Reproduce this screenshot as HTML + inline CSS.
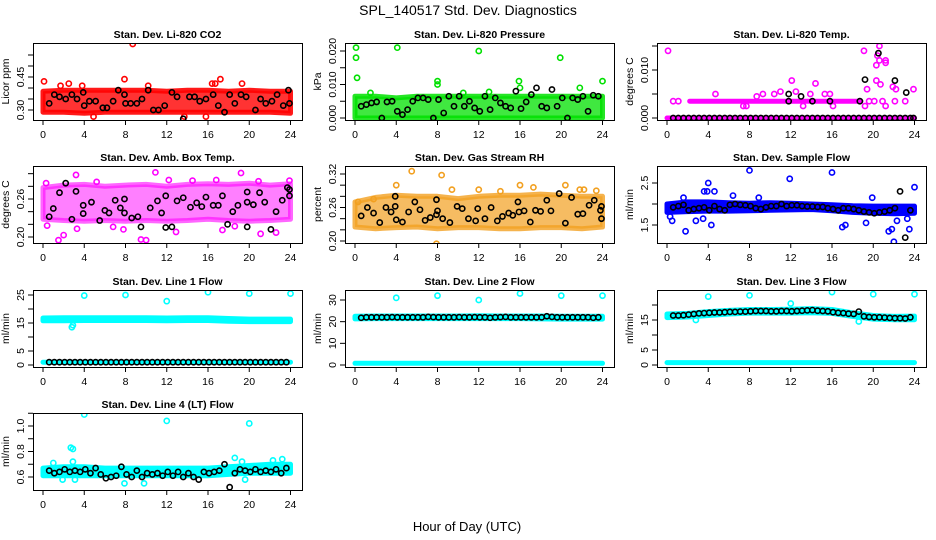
<!DOCTYPE html>
<html><head><meta charset="utf-8">
<style>
html,body{margin:0;padding:0;background:#fff;}
svg{display:block;font-family:"Liberation Sans",Arial,sans-serif;}
</style></head>
<body>
<svg id="chart" width="936" height="540" viewBox="0 0 936 540" xmlns="http://www.w3.org/2000/svg">
<rect width="936" height="540" fill="#fff"/>
<text x="468" y="15" text-anchor="middle" font-size="14">SPL_140517  Std. Dev. Diagnostics</text>
<text x="467" y="531" text-anchor="middle" font-size="13">Hour of Day (UTC)</text>
<g id="panels"></g>
</svg>
<script>
const xTicks=[0,4,8,12,16,20,24];
const halfHours=[0.6,1.1,1.6,2.1,2.6,3.1,3.6,4.1,4.6,5.1,5.6,6.1,6.6,7.1,7.6,8.1,8.6,9.1,9.6,10.1,10.6,11.1,11.6,12.1,12.6,13.1,13.6,14.1,14.6,15.1,15.6,16.1,16.6,17.1,17.6,18.1,18.6,19.1,19.6,20.1,20.6,21.1,21.6,22.1,22.6,23.1,23.6];
const bandHours=[0,2,4,6,8,10,12,14,16,18,20,22,24];

// Panel 1 CO2
const p1Lo=[0.29,0.29,0.285,0.29,0.29,0.29,0.29,0.29,0.29,0.29,0.29,0.29,0.285];
const p1Hi=[0.385,0.39,0.39,0.39,0.39,0.39,0.385,0.39,0.39,0.385,0.39,0.385,0.385];
const p1BlackH=[0.6,1.1,1.6,2.2,2.8,3.3,3.9,4.0,4.5,5.1,5.8,6.2,6.8,7.3,7.9,8.0,8.5,9.1,9.6,10.2,10.7,11.2,11.8,12.5,13.0,13.6,14.2,14.7,15.2,15.8,16.5,17.0,17.6,18.1,18.6,19.2,19.7,20.6,21.1,21.6,22.2,22.7,23.3,23.8,23.9];
const p1BlackV=[0.33,0.37,0.36,0.35,0.37,0.35,0.38,0.32,0.34,0.34,0.31,0.31,0.34,0.39,0.37,0.33,0.33,0.33,0.35,0.39,0.30,0.30,0.32,0.38,0.36,0.26,0.36,0.36,0.34,0.35,0.37,0.32,0.29,0.37,0.33,0.37,0.36,0.30,0.35,0.33,0.34,0.37,0.32,0.39,0.33];
const p1OutH=[0.1,2.5,8.7,7.9,17.2,16.4,16.7,19.3,15.8,4.9,10.2,1.7,3.8,13.7];
const p1OutV=[0.43,0.42,0.60,0.44,0.44,0.42,0.42,0.42,0.27,0.27,0.41,0.41,0.41,0.27];
const p1YTicks=[0.30,0.35,0.40,0.45,0.50,0.55];
const p1YLabels=["0.30","","","0.45","",""];

// Panel 2 Pressure
const p2Lo=[0,0,0,0,0,0,0,0,0,0,0,0,0];
const p2Hi=[0.0065,0.0065,0.006,0.0065,0.0065,0.0065,0.0065,0.0065,0.0065,0.0065,0.0065,0.0065,0.0065];
const p2BlackV=[0.0035,0.004,0.0045,0.0048,0,0.0048,0.005,0.002,0.001,0.0025,0.005,0.006,0.006,0.0055,0,0.0055,0.0015,0.0065,0.0035,0.0065,0.0035,0.005,0.003,0.002,0.0065,0.0025,0.006,0.0045,0.0035,0.003,0.008,0.0028,0.0048,0.007,0.009,0.0035,0.003,0.0085,0.0035,0.006,0,0.006,0.0055,0.0065,0.002,0.0068,0.0065];
const p2OutH=[0.1,0.1,0.2,4.1,12,19.9,8,8,15.9,16,21.8,24,1.5,10.5,13];
const p2OutV=[0.021,0.018,0.012,0.021,0.020,0.018,0.011,0.010,0.011,0.009,0.009,0.011,0.0075,0.0075,0.0078];
const p2YTicks=[0,0.005,0.010,0.015,0.020];
const p2YLabels=["0.000","","0.010","","0.020"];

// Panel 3 Li-820 Temp
const p3LoA=[0,0,0,0,0,0,0,0,0,0,0,0,0];
const p3HiA=[0,0,0,0,0,0,0,0,0,0,0,0,0];
const p3BandBHours=[2.2,6,10,14,18.8];
const p3LoB=[0.0035,0.0035,0.0035,0.0035,0.0035];
const p3HiB=[0.0035,0.0035,0.0035,0.0035,0.0035];
const p3BlackV=[0,0,0,0,0,0,0,0,0,0,0,0,0,0,0,0,0,0,0,0,0,0,0,0,0,0,0,0,0,0,0,0,0,0,0,0,0,0,0,0,0,0,0,0,0,0,0];
const p3ExtraH=[11.8,11.8,13,14.1,15.8,18.7,19.2,20.5,22.1,23.2,23.9];
const p3ExtraV=[0.005,0.0035,0.0045,0.0035,0.0035,0.0035,0.008,0.0135,0.0078,0.0053,0];
const p3OutH=[0.1,0.6,1.1,7.4,7.7,4.7,8.7,9.3,10.4,11,12.1,12.5,13.2,13.9,14.4,15.3,15.8,16.1,19.1,19.2,19.4,19.6,20.1,20.3,20.3,20.4,20.6,20.6,20.7,20.9,21.2,21.2,21.2,21.9,22.1,22.2,23.1,23.9];
const p3OutV=[0.014,0.0035,0.0035,0.0025,0.0025,0.005,0.0045,0.005,0.005,0.0055,0.0078,0.0055,0.0025,0.005,0.0072,0.005,0.005,0.0025,0.014,0.0025,0.006,0.0035,0.0035,0.0078,0.011,0.013,0.015,0.012,0.007,0.0035,0.0115,0.012,0.0025,0.0065,0.0035,0.006,0.0035,0.006];
const p3YTicks=[0,0.005,0.010,0.015];
const p3YLabels=["0.000","","0.010",""];

// Panel 4 Amb Box Temp
const p4Lo=[0.228,0.226,0.225,0.226,0.225,0.226,0.225,0.226,0.228,0.226,0.225,0.226,0.228];
const p4Hi=[0.278,0.282,0.283,0.28,0.282,0.283,0.28,0.283,0.284,0.283,0.285,0.282,0.284];
const p4BlackH=[0.6,1.0,1.6,2.2,2.8,3.2,3.9,3.9,4.7,5.5,6.0,6.4,7.0,7.5,7.9,7.9,8.6,9.2,9.5,10.4,11.1,11.5,11.9,11.9,12.5,13.0,13.6,14.3,14.9,15.4,15.8,16.5,17.0,17.4,17.9,18.4,18.9,19.8,19.8,19.8,20.4,21.0,21.5,22.1,22.6,23.2,23.7,23.9,23.9];
const p4BlackV=[0.232,0.245,0.27,0.285,0.228,0.272,0.25,0.237,0.255,0.226,0.242,0.238,0.258,0.246,0.26,0.238,0.23,0.232,0.216,0.246,0.257,0.238,0.265,0.215,0.216,0.257,0.262,0.247,0.254,0.248,0.263,0.25,0.25,0.265,0.22,0.24,0.25,0.216,0.271,0.255,0.251,0.27,0.255,0.212,0.24,0.258,0.278,0.265,0.275];
const p4OutH=[1.5,2.0,3.2,9.5,10.0,10.9,19.2,21.1,22.6,3.3,12.9,17.4,7.8,23.9,20.9,0.3,0.4,5.2,14.5,16.8,18.6,6.8,12.2];
const p4OutV=[0.195,0.203,0.298,0.196,0.195,0.302,0.301,0.205,0.207,0.213,0.208,0.211,0.212,0.289,0.288,0.285,0.218,0.287,0.289,0.29,0.217,0.216,0.29];
const p4YTicks=[0.20,0.22,0.24,0.26,0.28,0.30];
const p4YLabels=["0.20","","","0.26","",""];

// Panel 5 Gas Stream RH
const p5Lo=[0.225,0.222,0.224,0.225,0.222,0.224,0.224,0.222,0.222,0.224,0.224,0.222,0.225];
const p5Hi=[0.27,0.278,0.282,0.28,0.28,0.276,0.28,0.282,0.282,0.284,0.282,0.28,0.28];
const p5BlackH=[0.6,1.2,1.8,2.4,3.0,3.5,3.9,3.9,4.0,4.6,5.2,5.8,6.3,6.8,7.3,7.9,7.9,8.0,8.5,9.2,9.9,10.4,11.0,11.7,11.9,12.6,13.2,13.8,14.3,14.9,15.3,15.8,15.9,16.4,17.0,17.5,18.0,18.6,19.0,19.8,20.4,21.0,21.6,22.1,22.7,23.2,23.9,23.8,23.9];
const p5BlackV=[0.245,0.26,0.25,0.233,0.26,0.252,0.28,0.262,0.238,0.234,0.252,0.27,0.256,0.237,0.242,0.247,0.274,0.254,0.24,0.233,0.262,0.258,0.24,0.236,0.258,0.24,0.26,0.236,0.244,0.25,0.246,0.27,0.252,0.254,0.234,0.255,0.253,0.273,0.254,0.285,0.232,0.278,0.248,0.249,0.264,0.273,0.262,0.255,0.24];
const p5OutH=[5.5,8.4,4.0,16.0,20.4,7.9,0.3,1.8,9.4,21.8,22.2,23.4,14.1,12.0,17.3];
const p5OutV=[0.325,0.318,0.30,0.30,0.30,0.195,0.27,0.275,0.292,0.292,0.292,0.29,0.289,0.292,0.296];
const p5YTicks=[0.20,0.22,0.24,0.26,0.28,0.30,0.32];
const p5YLabels=["0.20","","","0.26","","","0.32"];

// Panel 6 Sample Flow
const p6Lo=[1.8,1.82,1.83,1.83,1.84,1.85,1.86,1.87,1.84,1.8,1.78,1.77,1.78];
const p6Hi=[2.0,2.05,2.05,2.03,2.02,2.03,2.02,2.0,1.98,1.96,1.95,1.95,1.95];
const p6BlackV=[1.92,1.95,1.98,1.85,1.88,1.9,1.92,1.85,1.95,1.88,1.85,1.98,2.0,1.98,1.97,1.95,1.9,1.88,1.92,1.95,1.95,2.0,1.95,1.97,1.97,1.95,1.94,1.94,1.93,1.93,1.9,1.88,1.85,1.9,1.9,1.88,1.85,1.82,1.8,1.78,1.8,1.82,1.85,1.9,2.3,1.2,1.85];
const p6OutH=[0.3,0.5,1.8,2.8,3.5,3.9,4.0,4.3,4.6,8.0,11.9,16,17.0,17.3,19.3,19.9,21.5,21.8,22.0,22.3,23.3,23.5,24,3.6,6.4,8.9,1.6];
const p6OutV=[1.7,1.6,1.35,1.6,1.65,2.3,2.5,1.5,2.3,2.8,2.6,2.75,1.45,1.5,1.55,2.15,1.35,1.4,1.1,1.6,1.65,1.4,2.4,2.3,2.2,2.15,2.15];
const p6YTicks=[1.5,2.0,2.5];
const p6YLabels=["1.5","","2.5"];

// Panel 7 Line 1 Flow
const p7Lo=[15.8,15.8,15.9,15.9,15.9,15.9,15.8,15.9,15.9,15.6,15.5,15.5,15.5];
const p7Hi=[16.8,16.9,16.9,16.9,16.9,16.9,16.8,16.9,16.9,16.6,16.4,16.4,16.4];
const p7LoB=[1,1,1,1,1,1,1,1,1,1,1,1,1];
const p7HiB=[1,1,1,1,1,1,1,1,1,1,1,1,1];
const p7BlackV=[1,1,1,1,1,1,1,1,1,1,1,1,1,1,1,1,1,1,1,1,1,1,1,1,1,1,1,1,1,1,1,1,1,1,1,1,1,1,1,1,1,1,1,1,1,1,1];
const p7OutH=[4,8,12,16,20,24,2.8,2.9];
const p7OutV=[24.8,25,22.8,26,25.5,25.5,13.5,14.2];
const p7YTicks=[0,5,10,15,20,25];
const p7YLabels=["0","5","","15","","25"];

// Panel 8 Line 2 Flow
const p8Lo=[21.3,21.4,21.4,21.4,21.4,21.4,21.4,21.4,21.4,21.3,21.2,21.2,21.2];
const p8Hi=[22.5,22.6,22.6,22.6,22.6,22.6,22.7,22.6,22.6,22.6,22.5,22.5,22.5];
const p8LoB=[0.8,0.8,0.8,0.8,0.8,0.8,0.8,0.8,0.8,0.8,0.8,0.8,0.8];
const p8HiB=[0.8,0.8,0.8,0.8,0.8,0.8,0.8,0.8,0.8,0.8,0.8,0.8,0.8];
const p8BlackV=[21.8,22,22,22,22,22,22.1,22,22,22,22,22,22,22.2,22.1,22,22,22,22,22.1,22,22,22.1,22,22,21.8,22,22.1,22.2,22,22,22,22,22,22,22,22.5,22.2,22,22,22,22,22,22,22,21.8,22];
const p8OutH=[4,8,12,16,20,24];
const p8OutV=[31,32,30,33,32,32];
const p8YTicks=[0,10,20,30];
const p8YLabels=["0","10","20","30"];

// Panel 9 Line 3 Flow
const p9Lo=[15.8,16,16.5,17,17.3,17.3,17.3,17.4,17.2,16.2,15.3,15.1,15.1];
const p9Hi=[17,17.2,17.8,18.2,18.5,18.5,18.6,18.8,18.5,17.4,16.5,16.2,16.3];
const p9LoB=[0.8,0.8,0.8,0.8,0.8,0.8,0.8,0.8,0.8,0.8,0.8,0.8,0.8];
const p9HiB=[0.8,0.8,0.8,0.8,0.8,0.8,0.8,0.8,0.8,0.8,0.8,0.8,0.8];
const p9BlackV=[16.5,16.5,16.6,16.8,17.0,17.2,17.3,17.4,17.5,17.5,17.6,17.7,17.7,17.8,17.8,17.9,18.0,18.0,18.0,17.9,17.9,18.0,18.0,17.9,18.0,18.1,18.2,18.3,18.1,18.0,17.9,17.6,17.4,17.3,17.1,17.0,17.8,16.2,16.0,15.9,15.9,15.8,15.7,15.6,15.6,15.5,15.9];
const p9OutH=[4,8,12,16,20,24,2.8,18.6,19.2];
const p9OutV=[22.8,23.2,20.5,24.3,23.6,23.6,15,14.5,16];
const p9YTicks=[0,5,10,15,20];
const p9YLabels=["0","5","","15",""];

// Panel 10 Line 4 (LT) Flow
const p10Lo=[0.61,0.61,0.61,0.61,0.61,0.61,0.61,0.61,0.61,0.62,0.63,0.63,0.63];
const p10Hi=[0.67,0.68,0.68,0.67,0.67,0.67,0.67,0.67,0.67,0.68,0.69,0.70,0.70];
const p10BlackV=[0.65,0.63,0.64,0.66,0.64,0.65,0.64,0.66,0.63,0.67,0.62,0.59,0.60,0.61,0.68,0.62,0.60,0.65,0.60,0.63,0.62,0.63,0.61,0.64,0.61,0.64,0.60,0.63,0.60,0.58,0.64,0.63,0.64,0.65,0.70,0.52,0.63,0.66,0.65,0.64,0.66,0.64,0.65,0.64,0.66,0.63,0.67];
const p10OutH=[4,12,20,2.7,2.9,1.0,2.9,18.6,23.2,22.3,19.3,19.6,7.9,9.8,3.1,1.9];
const p10OutV=[1.09,1.04,1.02,0.83,0.82,0.71,0.72,0.75,0.74,0.73,0.72,0.58,0.55,0.55,0.58,0.58];
const p10YTicks=[0.6,0.7,0.8,0.9,1.0,1.1];
const p10YLabels=["0.6","","0.8","","1.0",""];

const NS="http://www.w3.org/2000/svg";
const root=document.getElementById('panels');
function mk(tag,attrs,parent){const e=document.createElementNS(NS,tag);for(const k in attrs)e.setAttribute(k,attrs[k]);(parent||root).appendChild(e);return e;}

const panels=[
 {key:'co2',title:'Stan. Dev. Li-820 CO2',ylab:'Licor ppm',col:0,row:0,color:'#ff0000',ref:[0.30,110,0.45,77],
  bands:[[bandHours,p1Lo,p1Hi]],black:[[p1BlackH,p1BlackV]],out:[p1OutH,p1OutV],yt:p1YTicks,yl:p1YLabels,op:0.8},
 {key:'pressure',title:'Stan. Dev. Li-820 Pressure',ylab:'kPa',col:1,row:0,color:'#00e000',ref:[0,118,0.02,51],
  bands:[[bandHours,p2Lo,p2Hi]],black:[[halfHours,p2BlackV]],out:[p2OutH,p2OutV],yt:p2YTicks,yl:p2YLabels,op:0.75},
 {key:'li820-temp',title:'Stan. Dev. Li-820 Temp.',ylab:'degrees C',col:2,row:0,color:'#ff00ff',ref:[0,118,0.01,70],
  bands:[[bandHours,p3LoA,p3HiA],[p3BandBHours,p3LoB,p3HiB]],black:[[halfHours,p3BlackV],[p3ExtraH,p3ExtraV]],out:[p3OutH,p3OutV],yt:p3YTicks,yl:p3YLabels,op:1},
 {key:'amb-box-temp',title:'Stan. Dev. Amb. Box Temp.',ylab:'degrees C',col:0,row:1,color:'#ff00ff',ref:[0.20,237,0.26,199],
  bands:[[bandHours,p4Lo,p4Hi]],black:[[p4BlackH,p4BlackV]],out:[p4OutH,p4OutV],yt:p4YTicks,yl:p4YLabels,op:0.5},
 {key:'gas-rh',title:'Stan. Dev. Gas Stream RH',ylab:'percent',col:1,row:1,color:'#f2a020',ref:[0.20,241,0.32,174],
  bands:[[bandHours,p5Lo,p5Hi]],black:[[p5BlackH,p5BlackV]],out:[p5OutH,p5OutV],yt:p5YTicks,yl:p5YLabels,op:0.7},
 {key:'sample-flow',title:'Stan. Dev. Sample Flow',ylab:'ml/min',col:2,row:1,color:'#0000ff',ref:[1.5,225,2.5,183],
  bands:[[bandHours,p6Lo,p6Hi]],black:[[halfHours,p6BlackV]],out:[p6OutH,p6OutV],yt:p6YTicks,yl:p6YLabels,op:1},
 {key:'line1-flow',title:'Stan. Dev. Line 1 Flow',ylab:'ml/min',col:0,row:2,color:'#00ffff',ref:[0,365,25,295],
  bands:[[bandHours,p7Lo,p7Hi],[bandHours,p7LoB,p7HiB]],black:[[halfHours,p7BlackV]],out:[p7OutH,p7OutV],yt:p7YTicks,yl:p7YLabels,op:1},
 {key:'line2-flow',title:'Stan. Dev. Line 2 Flow',ylab:'ml/min',col:1,row:2,color:'#00ffff',ref:[0,365,30,300],
  bands:[[bandHours,p8Lo,p8Hi],[bandHours,p8LoB,p8HiB]],black:[[halfHours,p8BlackV]],out:[p8OutH,p8OutV],yt:p8YTicks,yl:p8YLabels,op:1},
 {key:'line3-flow',title:'Stan. Dev. Line 3 Flow',ylab:'ml/min',col:2,row:2,color:'#00ffff',ref:[0,365,15,320],
  bands:[[bandHours,p9Lo,p9Hi],[bandHours,p9LoB,p9HiB]],black:[[halfHours,p9BlackV]],out:[p9OutH,p9OutV],yt:p9YTicks,yl:p9YLabels,op:1},
 {key:'line4-flow',title:'Stan. Dev. Line 4 (LT) Flow',ylab:'ml/min',col:0,row:3,color:'#00ffff',ref:[0.6,477,1.0,426],
  bands:[[bandHours,p10Lo,p10Hi]],black:[[halfHours,p10BlackV]],out:[p10OutH,p10OutV],yt:p10YTicks,yl:p10YLabels,op:1}
];

panels.forEach(p=>{
  const left=33+312*p.col, right=302+312*p.col;
  const top=Math.round(43+123.3*p.row), bottom=top+77;
  const x0=43+312*p.col, x24=290.5+312*p.col;
  const xs=h=>x0+(x24-x0)*h/24;
  const [va,pa,vb,pb]=p.ref;
  const ys=v=>pa+(v-va)*(pb-pa)/(vb-va);
  const g=mk('g',{});
  
  
  const cp='clip-'+p.key;
  const cpe=mk('clipPath',{id:cp},g); mk('rect',{x:left,y:top,width:right-left,height:bottom-top},cpe);
  const t=mk('text',{x:(left+right)/2,y:top-5,'text-anchor':'middle','font-size':'10.5','font-weight':'bold'},g);
  t.textContent=p.title;
  
  
  const yl=mk('text',{x:left-24,y:(top+bottom)/2,'text-anchor':'middle','font-size':'10.5',transform:`rotate(-90 ${left-24} ${(top+bottom)/2})`},g);
  yl.textContent=p.ylab;
  
  
  const plot=mk('g',{'clip-path':`url(#${cp})`},g);
  p.bands.forEach(b=>{
    const [bh,lo,hi]=b;
    const n=Math.min(bh.length,lo.length,hi.length);
    let pts=[];
    for(let i=0;i<n;i++)pts.push(xs(bh[i]).toFixed(1)+','+ys(hi[i]).toFixed(1));
    for(let i=n-1;i>=0;i--)pts.push(xs(bh[i]).toFixed(1)+','+ys(lo[i]).toFixed(1));
    const poly=mk('polygon',{points:pts.join(' '),fill:p.color,stroke:p.color,'stroke-width':5,'stroke-linejoin':'round','fill-opacity':p.op,'stroke-opacity':Math.min(1,p.op+0.1)},plot);
    
    
  });
  const [oh,ov]=p.out;
  for(let i=0;i<Math.min(oh.length,ov.length);i++){
    const c=mk('circle',{cx:xs(oh[i]),cy:ys(ov[i]),r:2.6,fill:'none',stroke:p.color,'stroke-width':1.6},plot);
    
    
  }
  p.black.forEach(bs=>{
    const [bh,bv]=bs;
    for(let i=0;i<Math.min(bh.length,bv.length);i++){
      const c=mk('circle',{cx:xs(bh[i]),cy:ys(bv[i]),r:2.6,fill:'none',stroke:'#000','stroke-width':1.6},plot);
      
      
    }
  });
  const fr=mk('rect',{x:left+0.5,y:top+0.5,width:right-left,height:bottom-top,fill:'none',stroke:'#000','stroke-width':1},g);
  
  
  xTicks.forEach(v=>{
    const x=xs(v);
    mk('line',{x1:x,y1:bottom,x2:x,y2:bottom+5,stroke:'#000'},g);
    const tt=mk('text',{x:x,y:bottom+18,'text-anchor':'middle','font-size':'10.5'},g);
    tt.textContent=v;
    
    
  });
  p.yt.forEach((v,i)=>{
    const y=ys(v);
    mk('line',{x1:left-5,y1:y,x2:left,y2:y,stroke:'#000'},g);
    if(p.yl[i]){
      const tt=mk('text',{x:left-9,y:y,'text-anchor':'middle','font-size':'10.5',transform:`rotate(-90 ${left-9} ${y})`},g);
      tt.textContent=p.yl[i];
      
      
    }
  });
});
</script>
</body></html>
